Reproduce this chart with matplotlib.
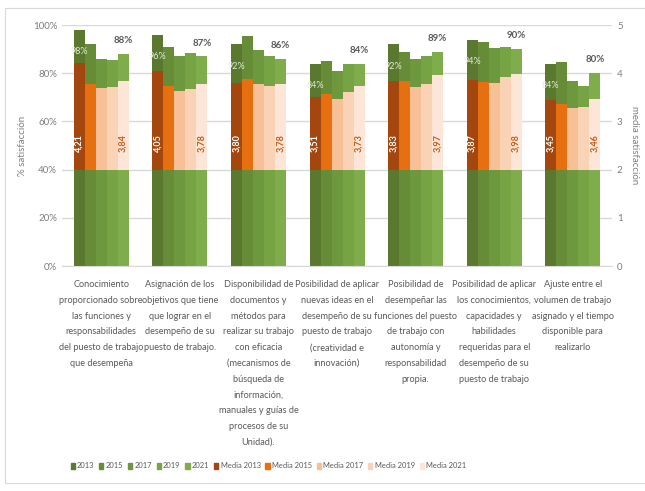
import matplotlib
matplotlib.use('Agg')
import matplotlib.pyplot as plt
from matplotlib.patches import Rectangle, Patch
import numpy as np

plt.rcParams['font.family'] = ['Lato', 'DejaVu Sans']

categories = [
    'Conocimiento\nproporcionado sobre\nlas funciones y\nresponsabilidades\ndel puesto de trabajo\nque desempeña',
    'Asignación de los\nobjetivos que tiene\nque lograr en el\ndesempeño de su\npuesto de trabajo.',
    'Disponibilidad de\ndocumentos y\nmétodos para\nrealizar su trabajo\ncon eficacia\n(mecanismos de\nbúsqueda de\ninformación,\nmanuales y guías de\nprocesos de su\nUnidad).',
    'Posibilidad de aplicar\nnuevas ideas en el\ndesempeño de su\npuesto de trabajo\n(creatividad e\ninnovación)',
    'Posibilidad de\ndesempeñar las\nfunciones del puesto\nde trabajo con\nautonomía y\nresponsabilidad\npropia.',
    'Posibilidad de aplicar\nlos conocimientos,\ncapacidades y\nhabilidades\nrequeridas para el\ndesempeño de su\npuesto de trabajo',
    'Ajuste entre el\nvolumen de trabajo\nasignado y el tiempo\ndisponible para\nrealizarlo',
]
years = ['2013', '2015', '2017', '2019', '2021']

# % satisfaccion per year (rows = year, cols = category)
pct_2013 = [98, 96, 92, 84, 92, 94, 84]
pct_2015 = [92, 91, 95.5, 85, 89, 93, 84.5]
pct_2017 = [86, 87, 89.5, 81, 86, 90.3, 76.7]
pct_2019 = [85.5, 88.5, 87, 84, 87, 91, 74.7]
pct_2021 = [88, 87, 86, 84, 89, 90, 80]

# media satisfaccion per year
media_2013 = [4.21, 4.05, 3.80, 3.51, 3.83, 3.87, 3.45]
media_2015 = [3.77, 3.74, 3.89, 3.58, 3.84, 3.82, 3.37]
media_2017 = [3.70, 3.63, 3.77, 3.46, 3.72, 3.80, 3.28]
media_2019 = [3.72, 3.68, 3.74, 3.61, 3.77, 3.93, 3.29]
media_2021 = [3.84, 3.78, 3.78, 3.73, 3.97, 3.98, 3.46]

pct = [pct_2013, pct_2015, pct_2017, pct_2019, pct_2021]
media = [media_2013, media_2015, media_2017, media_2019, media_2021]

greens = ['#5a782e', '#678c37', '#6e983d', '#76a344', '#80ad4c']
oranges = ['#a3470f', '#e6700f', '#f8c097', '#fad2b6', '#fde6d7']
grid_c = '#d9d9d9'
txt_c = '#7f7f7f'

fig = plt.figure(figsize=(6.45, 4.91), dpi=100)
fig.patches.append(Rectangle((0.008, 0.016), 1.2, 0.968, transform=fig.transFigure,
                             fill=False, edgecolor='#d9d9d9', linewidth=0.8))

ax = fig.add_axes([0.096, 0.458, 0.853, 0.491])
ax2 = ax.twinx()

x = np.arange(len(categories))
w = 0.14
offs = (np.arange(5) - 2) * w

for i in range(5):
    ax.bar(x + offs[i], np.array(pct[i]) / 100, w, color=greens[i], zorder=2, label=years[i])
for i in range(5):
    vals = np.array(media[i])
    ax2.bar(x + offs[i], vals - 2, w, bottom=2, color=oranges[i], zorder=2,
            label='Media ' + years[i])

ax.set_ylim(0, 1)
ax2.set_ylim(0, 5)
ax.set_xlim(-0.5, len(categories) - 0.5)
ax.set_yticks(np.arange(0, 1.01, 0.2))
ax.set_yticklabels(['{:.0f}%'.format(v * 100) for v in np.arange(0, 1.01, 0.2)])
ax2.set_yticks(range(6))
ax.yaxis.grid(True, color=grid_c, linewidth=1, zorder=0)
ax.set_axisbelow(True)
for a in (ax, ax2):
    for s in a.spines.values():
        s.set_visible(False)
    a.tick_params(length=0, labelsize=7, labelcolor=txt_c)
ax.spines['bottom'].set_visible(True)
ax.spines['bottom'].set_color(grid_c)

ax.set_xticks(x)
ax.set_xticklabels(categories, fontsize=6.6, color='#595959', linespacing=1.97, va='top')
ax.tick_params(axis='x', pad=10)

ax.set_ylabel('% satisfacción', fontsize=7, color=txt_c, labelpad=4)
ax2.set_ylabel('media satisfacción', fontsize=7, color=txt_c, rotation=270, labelpad=12)

# data labels
for j in range(len(categories)):
    ax.text(x[j] + offs[0], pct_2013[j] / 100 - 0.09, '{:.0f}%'.format(pct_2013[j]),
            ha='center', va='center', fontsize=6.5, color='#e4ecd8', zorder=5)
    ax.text(x[j] + offs[4], pct_2021[j] / 100 + 0.055, '{:.0f}%'.format(pct_2021[j]),
            ha='center', va='center', fontsize=7, color='#595959', fontweight='bold', zorder=5)
    ax2.text(x[j] + offs[0], 2.55, '{:.2f}'.format(media_2013[j]).replace('.', ','),
             ha='center', va='center', rotation=90, fontsize=6.5, color='white',
             fontweight='bold', zorder=5)
    ax2.text(x[j] + offs[4], 2.55, '{:.2f}'.format(media_2021[j]).replace('.', ','),
             ha='center', va='center', rotation=90, fontsize=6.5, color='#c55a11',
             fontweight='bold', zorder=5)

handles = [Patch(color=c) for c in greens + oranges]
names = years + ['Media ' + y for y in years]
fig.legend(handles, names, loc='center', bbox_to_anchor=(0.416, 0.051), ncol=10,
           frameon=False, fontsize=5.4, handlelength=0.55, handleheight=0.75,
           handletextpad=0.3, columnspacing=0.65, labelcolor='#595959')

fig.savefig('out.png', dpi=100)
